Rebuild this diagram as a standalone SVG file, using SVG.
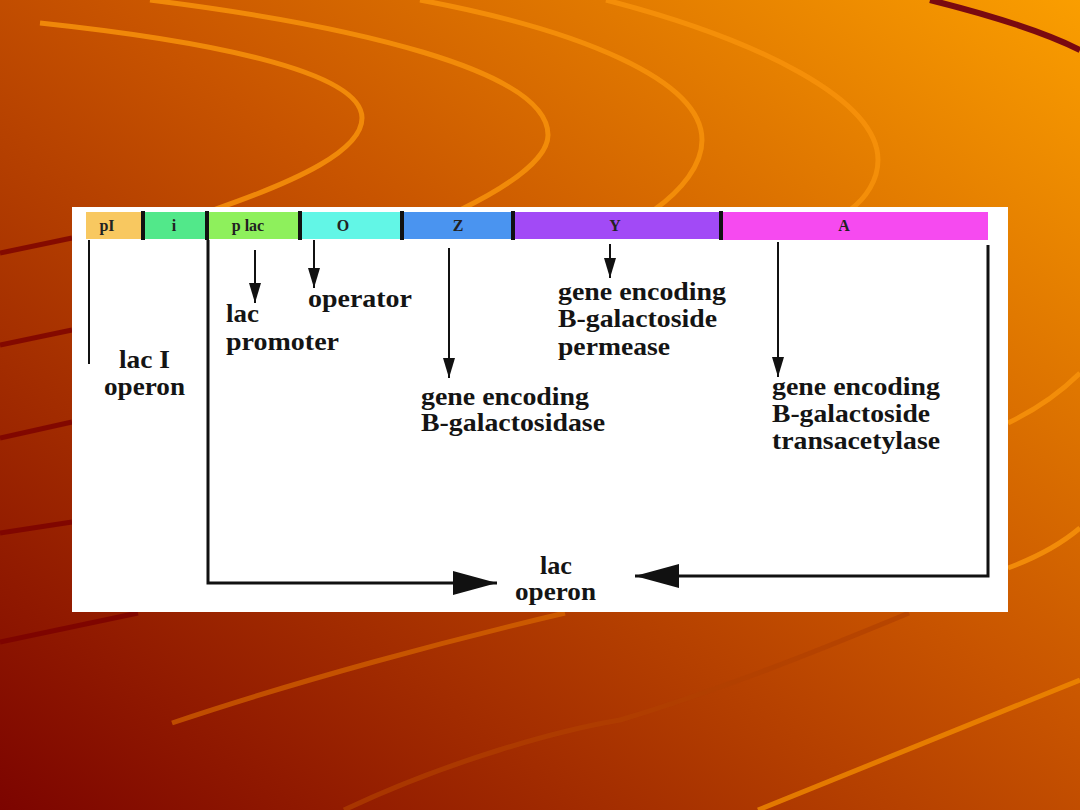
<svg xmlns="http://www.w3.org/2000/svg" width="1080" height="810" viewBox="0 0 1080 810">
<defs>
<linearGradient id="bg" x1="1" y1="0" x2="0" y2="1">
<stop offset="0" stop-color="#fa9e00"/>
<stop offset="0.45" stop-color="#c85400"/>
<stop offset="1" stop-color="#7c0400"/>
</linearGradient>
<marker id="ahS" markerUnits="userSpaceOnUse" markerWidth="20" markerHeight="12" refX="20" refY="6" orient="auto">
<path d="M0,0 L20,6 L0,12 z" fill="#111"/>
</marker>
<marker id="ahL" markerUnits="userSpaceOnUse" markerWidth="44" markerHeight="24" refX="44" refY="12" orient="auto">
<path d="M0,0 L44,12 L0,24 z" fill="#111"/>
</marker>
</defs>
<style>
.arc{fill:none;stroke:#f7920a;stroke-width:5;opacity:0.85}
.dk{fill:none;stroke:#7a0000;stroke-width:5;opacity:0.8}
.lo{fill:none;stroke:#e07000;stroke-width:5;opacity:0.6}
.seg{stroke:none}
.div{stroke:#111;stroke-width:4}
.bl{font-family:"Liberation Serif",serif;font-weight:bold;font-size:16px;fill:#222;text-anchor:middle}
.t{font-family:"Liberation Serif",serif;font-weight:bold;font-size:25px;fill:#141414}
.ln{fill:none;stroke:#111;stroke-width:2}
.lnb{fill:none;stroke:#111;stroke-width:3}
</style>
<g id="background">
<rect x="0" y="0" width="1080" height="810" fill="url(#bg)"/>
<path class="arc" d="M40,23 C200,40 362,70 362,118 C362,150 300,180 213,210"/>
<path class="arc" d="M150,0 C350,25 548,70 548,135 C548,160 505,188 460,210"/>
<path class="arc" d="M420,0 C580,30 702,80 702,140 C702,165 682,190 654,210"/>
<path class="arc" d="M606,0 C760,40 878,100 878,160 C878,180 866,198 850,210"/>
<path d="M930,0 C990,15 1040,30 1080,50" fill="none" stroke="#7a0a10" stroke-width="6"/>
<path class="dk" d="M0,253 L72,238"/>
<path class="dk" d="M0,345 L72,330"/>
<path class="dk" d="M0,438 L72,422"/>
<path class="dk" d="M0,533 L72,522"/>
<path class="dk" d="M0,642 L138,613"/>
<path class="lo" d="M172,723 C300,680 450,640 565,613"/>
<path d="M344,810 C450,760 560,730 620,720 C720,690 820,650 909,613" fill="none" stroke="#b04000" stroke-width="5" opacity="0.7"/>
<path d="M758,810 C880,760 980,720 1080,680" fill="none" stroke="#f08a00" stroke-width="5" opacity="0.8"/>
<path class="arc" d="M1008,423 C1035,410 1060,393 1080,373"/>
<path class="arc" d="M1008,568 C1035,558 1060,545 1080,528"/>
</g>
<rect id="panel" x="72" y="207" width="936" height="405" fill="#ffffff"/>
<g id="bar">
<g id="seg-pI"><rect class="seg" x="86" y="212" width="57" height="27" fill="#f8c860"/><text class="bl" x="107" y="231">pI</text></g>
<g id="seg-i"><rect class="seg" x="143" y="212" width="64" height="27" fill="#52e88a"/><text class="bl" x="174" y="231">i</text></g>
<g id="seg-plac"><rect class="seg" x="207" y="212" width="93" height="27" fill="#8ef05c"/><text class="bl" x="248" y="231">p lac</text></g>
<g id="seg-O"><rect class="seg" x="300" y="212" width="102" height="27" fill="#62f6e6"/><text class="bl" x="343" y="231">O</text></g>
<g id="seg-Z"><rect class="seg" x="402" y="212" width="111" height="27" fill="#4a94f0"/><text class="bl" x="458" y="231">Z</text></g>
<g id="seg-Y"><rect class="seg" x="513" y="212" width="208" height="27" fill="#a24af6"/><text class="bl" x="615" y="231">Y</text></g>
<g id="seg-A"><rect class="seg" x="721" y="212" width="267" height="28" fill="#f64af0"/><text class="bl" x="844" y="231">A</text></g>
<g id="dividers">
<line class="div" x1="143" y1="211" x2="143" y2="240"/>
<line class="div" x1="207" y1="211" x2="207" y2="240"/>
<line class="div" x1="300" y1="211" x2="300" y2="240"/>
<line class="div" x1="402" y1="211" x2="402" y2="240"/>
<line class="div" x1="513" y1="211" x2="513" y2="240"/>
<line class="div" x1="721" y1="211" x2="721" y2="240"/>
</g>
</g>
<g id="connectors">
<path class="ln" d="M89,240 V364"/>
<path class="ln" d="M255,250 V303" marker-end="url(#ahS)"/>
<path class="ln" d="M314,240 V288" marker-end="url(#ahS)"/>
<path class="ln" d="M449,248 V378" marker-end="url(#ahS)"/>
<path class="ln" d="M610,244 V278" marker-end="url(#ahS)"/>
<path class="ln" d="M778,242 V377" marker-end="url(#ahS)"/>
<path class="lnb" d="M208,240 V583 H497" marker-end="url(#ahL)"/>
<path class="lnb" d="M988,245 V576 H635" marker-end="url(#ahL)"/>
</g>
<g id="label-lacI"><text class="t" x="119" y="368" textLength="51" lengthAdjust="spacingAndGlyphs">lac I</text><text class="t" x="104" y="395" textLength="81" lengthAdjust="spacingAndGlyphs">operon</text></g>
<g id="label-promoter"><text class="t" x="226" y="322" textLength="33" lengthAdjust="spacingAndGlyphs">lac</text><text class="t" x="226" y="350" textLength="113" lengthAdjust="spacingAndGlyphs">promoter</text></g>
<g id="label-operator"><text class="t" x="308" y="307" textLength="104" lengthAdjust="spacingAndGlyphs">operator</text></g>
<g id="label-Z"><text class="t" x="421" y="405" textLength="168" lengthAdjust="spacingAndGlyphs">gene encoding</text><text class="t" x="421" y="431" textLength="184" lengthAdjust="spacingAndGlyphs">B-galactosidase</text></g>
<g id="label-Y"><text class="t" x="558" y="300" textLength="168" lengthAdjust="spacingAndGlyphs">gene encoding</text><text class="t" x="558" y="327" textLength="159" lengthAdjust="spacingAndGlyphs">B-galactoside</text><text class="t" x="558" y="355" textLength="112" lengthAdjust="spacingAndGlyphs">permease</text></g>
<g id="label-A"><text class="t" x="772" y="395" textLength="168" lengthAdjust="spacingAndGlyphs">gene encoding</text><text class="t" x="772" y="422" textLength="158" lengthAdjust="spacingAndGlyphs">B-galactoside</text><text class="t" x="772" y="449" textLength="168" lengthAdjust="spacingAndGlyphs">transacetylase</text></g>
<g id="label-lacoperon"><text class="t" x="540" y="574" textLength="32" lengthAdjust="spacingAndGlyphs">lac</text><text class="t" x="515" y="600" textLength="81" lengthAdjust="spacingAndGlyphs">operon</text></g>
</svg>
